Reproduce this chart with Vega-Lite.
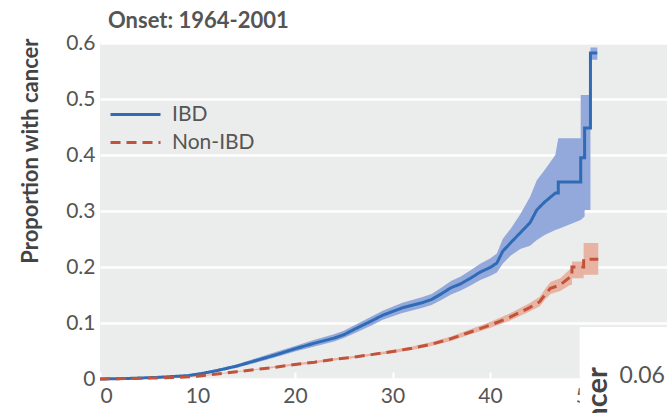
{
  "$schema": "https://vega.github.io/schema/vega-lite/v6.json",
  "width": 567,
  "height": 336,
  "autosize": "none",
  "padding": {"left": 100, "top": 43, "right": 0, "bottom": 34},
  "background": "white",
  "title": {"text": "Onset: 1964-2001", "anchor": "start", "frame": "group", "dx": 8, "fontSize": 22, "font": "Lato", "fontWeight": "bold", "color": "#555555", "offset": -1},
  "config": {
    "font": "Lato",
    "view": {"fill": "#ebecec", "stroke": null},
    "axis": {"labelFont": "Lato", "labelFontSize": 21, "labelColor": "#555555", "domain": false, "titleFont": "Lato"}
  },
  "datasets": {
    "curves": [
      {"series": "IBD", "x": 0, "y": 0, "lo": 0, "hi": 0.001},
      {"series": "IBD", "x": 3, "y": 0.001, "lo": 0, "hi": 0.002},
      {"series": "IBD", "x": 6, "y": 0.003, "lo": 0.002, "hi": 0.004},
      {"series": "IBD", "x": 9, "y": 0.006, "lo": 0.005, "hi": 0.008},
      {"series": "IBD", "x": 10.5, "y": 0.01, "lo": 0.008, "hi": 0.012},
      {"series": "IBD", "x": 12, "y": 0.015, "lo": 0.013, "hi": 0.018},
      {"series": "IBD", "x": 14, "y": 0.023, "lo": 0.02, "hi": 0.026},
      {"series": "IBD", "x": 16, "y": 0.033, "lo": 0.029, "hi": 0.037},
      {"series": "IBD", "x": 18, "y": 0.043, "lo": 0.039, "hi": 0.048},
      {"series": "IBD", "x": 20, "y": 0.054, "lo": 0.049, "hi": 0.059},
      {"series": "IBD", "x": 22, "y": 0.064, "lo": 0.058, "hi": 0.07},
      {"series": "IBD", "x": 24, "y": 0.073, "lo": 0.067, "hi": 0.08},
      {"series": "IBD", "x": 25, "y": 0.079, "lo": 0.073, "hi": 0.086},
      {"series": "IBD", "x": 26, "y": 0.088, "lo": 0.081, "hi": 0.095},
      {"series": "IBD", "x": 28, "y": 0.105, "lo": 0.097, "hi": 0.113},
      {"series": "IBD", "x": 29, "y": 0.114, "lo": 0.106, "hi": 0.122},
      {"series": "IBD", "x": 31, "y": 0.127, "lo": 0.118, "hi": 0.136},
      {"series": "IBD", "x": 33, "y": 0.136, "lo": 0.127, "hi": 0.146},
      {"series": "IBD", "x": 34, "y": 0.142, "lo": 0.132, "hi": 0.152},
      {"series": "IBD", "x": 35, "y": 0.152, "lo": 0.141, "hi": 0.163},
      {"series": "IBD", "x": 36, "y": 0.163, "lo": 0.151, "hi": 0.175},
      {"series": "IBD", "x": 37, "y": 0.17, "lo": 0.158, "hi": 0.183},
      {"series": "IBD", "x": 38, "y": 0.18, "lo": 0.167, "hi": 0.194},
      {"series": "IBD", "x": 39, "y": 0.191, "lo": 0.177, "hi": 0.206},
      {"series": "IBD", "x": 40, "y": 0.199, "lo": 0.184, "hi": 0.215},
      {"series": "IBD", "x": 40.7, "y": 0.207, "lo": 0.19, "hi": 0.224},
      {"series": "IBD", "x": 41.3, "y": 0.228, "lo": 0.206, "hi": 0.25},
      {"series": "IBD", "x": 42.1, "y": 0.243, "lo": 0.22, "hi": 0.268},
      {"series": "IBD", "x": 43.1, "y": 0.261, "lo": 0.232, "hi": 0.294},
      {"series": "IBD", "x": 44.1, "y": 0.279, "lo": 0.238, "hi": 0.325},
      {"series": "IBD", "x": 44.8, "y": 0.302, "lo": 0.248, "hi": 0.355},
      {"series": "IBD", "x": 45.6, "y": 0.316, "lo": 0.257, "hi": 0.373},
      {"series": "IBD", "x": 46.7, "y": 0.332, "lo": 0.266, "hi": 0.4},
      {"series": "IBD", "x": 47, "y": 0.332, "lo": 0.268, "hi": 0.43},
      {"series": "IBD", "x": 47, "y": 0.352, "lo": 0.268, "hi": 0.43},
      {"series": "IBD", "x": 49.3, "y": 0.352, "lo": 0.284, "hi": 0.43},
      {"series": "IBD", "x": 49.3, "y": 0.395, "lo": 0.284, "hi": 0.507},
      {"series": "IBD", "x": 49.7, "y": 0.395, "lo": 0.29, "hi": 0.507},
      {"series": "IBD", "x": 49.7, "y": 0.448, "lo": 0.302, "hi": 0.507},
      {"series": "IBD", "x": 50.3, "y": 0.448, "lo": 0.302, "hi": 0.507},
      {"series": "IBD", "x": 50.3, "y": 0.582, "lo": 0.57, "hi": 0.592},
      {"series": "IBD", "x": 51, "y": 0.582, "lo": 0.57, "hi": 0.592},
      {"series": "Non-IBD", "x": 0, "y": 0, "lo": 0, "hi": 0.001},
      {"series": "Non-IBD", "x": 3, "y": 0.001, "lo": 0, "hi": 0.002},
      {"series": "Non-IBD", "x": 6, "y": 0.002, "lo": 0.001, "hi": 0.003},
      {"series": "Non-IBD", "x": 8, "y": 0.003, "lo": 0.002, "hi": 0.004},
      {"series": "Non-IBD", "x": 10, "y": 0.005, "lo": 0.004, "hi": 0.006},
      {"series": "Non-IBD", "x": 12, "y": 0.009, "lo": 0.008, "hi": 0.01},
      {"series": "Non-IBD", "x": 14, "y": 0.013, "lo": 0.012, "hi": 0.014},
      {"series": "Non-IBD", "x": 16, "y": 0.017, "lo": 0.016, "hi": 0.018},
      {"series": "Non-IBD", "x": 18, "y": 0.021, "lo": 0.02, "hi": 0.023},
      {"series": "Non-IBD", "x": 20, "y": 0.026, "lo": 0.024, "hi": 0.028},
      {"series": "Non-IBD", "x": 22, "y": 0.03, "lo": 0.028, "hi": 0.032},
      {"series": "Non-IBD", "x": 24, "y": 0.035, "lo": 0.033, "hi": 0.037},
      {"series": "Non-IBD", "x": 26, "y": 0.039, "lo": 0.037, "hi": 0.041},
      {"series": "Non-IBD", "x": 28, "y": 0.044, "lo": 0.042, "hi": 0.046},
      {"series": "Non-IBD", "x": 30, "y": 0.049, "lo": 0.046, "hi": 0.052},
      {"series": "Non-IBD", "x": 32, "y": 0.055, "lo": 0.052, "hi": 0.058},
      {"series": "Non-IBD", "x": 34, "y": 0.062, "lo": 0.059, "hi": 0.066},
      {"series": "Non-IBD", "x": 36, "y": 0.072, "lo": 0.068, "hi": 0.076},
      {"series": "Non-IBD", "x": 38, "y": 0.084, "lo": 0.08, "hi": 0.089},
      {"series": "Non-IBD", "x": 40, "y": 0.096, "lo": 0.091, "hi": 0.102},
      {"series": "Non-IBD", "x": 42, "y": 0.11, "lo": 0.104, "hi": 0.117},
      {"series": "Non-IBD", "x": 44, "y": 0.127, "lo": 0.12, "hi": 0.135},
      {"series": "Non-IBD", "x": 45.1, "y": 0.138, "lo": 0.13, "hi": 0.147},
      {"series": "Non-IBD", "x": 45.7, "y": 0.152, "lo": 0.143, "hi": 0.162},
      {"series": "Non-IBD", "x": 46.2, "y": 0.162, "lo": 0.152, "hi": 0.173},
      {"series": "Non-IBD", "x": 47.2, "y": 0.168, "lo": 0.157, "hi": 0.18},
      {"series": "Non-IBD", "x": 48.2, "y": 0.182, "lo": 0.168, "hi": 0.196},
      {"series": "Non-IBD", "x": 48.4, "y": 0.182, "lo": 0.168, "hi": 0.196},
      {"series": "Non-IBD", "x": 48.4, "y": 0.2, "lo": 0.18, "hi": 0.21},
      {"series": "Non-IBD", "x": 49.6, "y": 0.2, "lo": 0.18, "hi": 0.21},
      {"series": "Non-IBD", "x": 49.6, "y": 0.214, "lo": 0.186, "hi": 0.243},
      {"series": "Non-IBD", "x": 51.1, "y": 0.214, "lo": 0.186, "hi": 0.243}
    ],
    "cover": [
      {"x": 49.2, "x2": 60, "y": 0.093, "y2": -0.08}
    ],
    "notes": [
      {"x": 51.1, "y": 0.021, "text": "Proportion with cancer", "kind": "title"},
      {"x": 55.6, "y": 0.005, "text": "0.06", "kind": "label"}
    ]
  },
  "layer": [
    {
      "data": {"name": "curves"},
      "transform": [{"filter": "datum.series === 'IBD'"}],
      "mark": {"type": "area", "fill": "#93a9dc", "clip": false},
      "encoding": {
        "x": {"field": "x", "type": "quantitative", "scale": {"domain": [0, 58.15], "nice": false, "zero": false},
          "axis": {"values": [0, 10, 20, 30, 40, 50], "grid": false, "ticks": true, "tickColor": "white", "tickSize": -7, "tickWidth": 2, "labelPadding": 13, "title": null, "zindex": 0}},
        "y": {"field": "lo", "type": "quantitative", "scale": {"domain": [0, 0.6], "nice": false},
          "axis": {"values": [0, 0.1, 0.2, 0.3, 0.4, 0.5, 0.6], "format": ".1~f", "grid": true, "gridColor": "white", "gridWidth": 2.5, "ticks": false, "labelPadding": 5,
            "title": "Proportion with cancer", "titleFontSize": 22, "titleFontWeight": "bold", "titleColor": "#444444", "titleAngle": 270, "titleAlign": "right", "titleBaseline": "middle", "titleX": -70, "titleY": -5, "zindex": 0}},
        "y2": {"field": "hi"}
      }
    },
    {
      "data": {"name": "curves"},
      "transform": [{"filter": "datum.series === 'Non-IBD'"}],
      "mark": {"type": "area", "fill": "#e8b3a2", "clip": false},
      "encoding": {
        "x": {"field": "x", "type": "quantitative"},
        "y": {"field": "lo", "type": "quantitative"},
        "y2": {"field": "hi"}
      }
    },
    {
      "data": {"name": "curves"},
      "mark": {"type": "line", "strokeWidth": 3, "clip": false},
      "encoding": {
        "x": {"field": "x", "type": "quantitative"},
        "y": {"field": "y", "type": "quantitative"},
        "stroke": {"field": "series", "type": "nominal", "scale": {"domain": ["IBD", "Non-IBD"], "range": ["#2f6cb5", "#c0533a"]},
          "legend": {"orient": "none", "legendX": 25, "legendY": 61, "title": null, "symbolType": "M-5,0H5", "symbolSize": 100, "symbolStrokeWidth": 3, "symbolFillColor": "transparent", "labelFontSize": 21, "labelColor": "#555555", "labelFont": "Lato", "rowPadding": 6, "labelOffset": 26}},
        "strokeDash": {"field": "series", "type": "nominal", "scale": {"domain": ["IBD", "Non-IBD"], "range": [[1, 0], [10, 6]]},
          "legend": {"orient": "none", "legendX": 25, "legendY": 61, "title": null, "symbolType": "M-5,0H5", "symbolSize": 100, "symbolStrokeWidth": 3, "symbolFillColor": "transparent", "labelFontSize": 21, "labelColor": "#555555", "labelFont": "Lato", "rowPadding": 6, "labelOffset": 26}}
      }
    },
    {
      "data": {"name": "cover"},
      "mark": {"type": "rect", "fill": "white", "clip": false},
      "encoding": {
        "x": {"field": "x", "type": "quantitative"},
        "x2": {"field": "x2"},
        "y": {"field": "y", "type": "quantitative"},
        "y2": {"field": "y2"}
      }
    },
    {
      "data": {"name": "notes"},
      "transform": [{"filter": "datum.kind === 'title'"}],
      "mark": {"type": "text", "angle": 270, "align": "right", "baseline": "middle", "fontSize": 29, "fontWeight": "bold", "color": "#444444", "font": "Lato", "clip": false},
      "encoding": {
        "x": {"field": "x", "type": "quantitative"},
        "y": {"field": "y", "type": "quantitative"},
        "text": {"field": "text"}
      }
    },
    {
      "data": {"name": "notes"},
      "transform": [{"filter": "datum.kind === 'label'"}],
      "mark": {"type": "text", "align": "center", "baseline": "middle", "fontSize": 23, "color": "#555555", "font": "Lato", "clip": false},
      "encoding": {
        "x": {"field": "x", "type": "quantitative"},
        "y": {"field": "y", "type": "quantitative"},
        "text": {"field": "text"}
      }
    }
  ]
}
